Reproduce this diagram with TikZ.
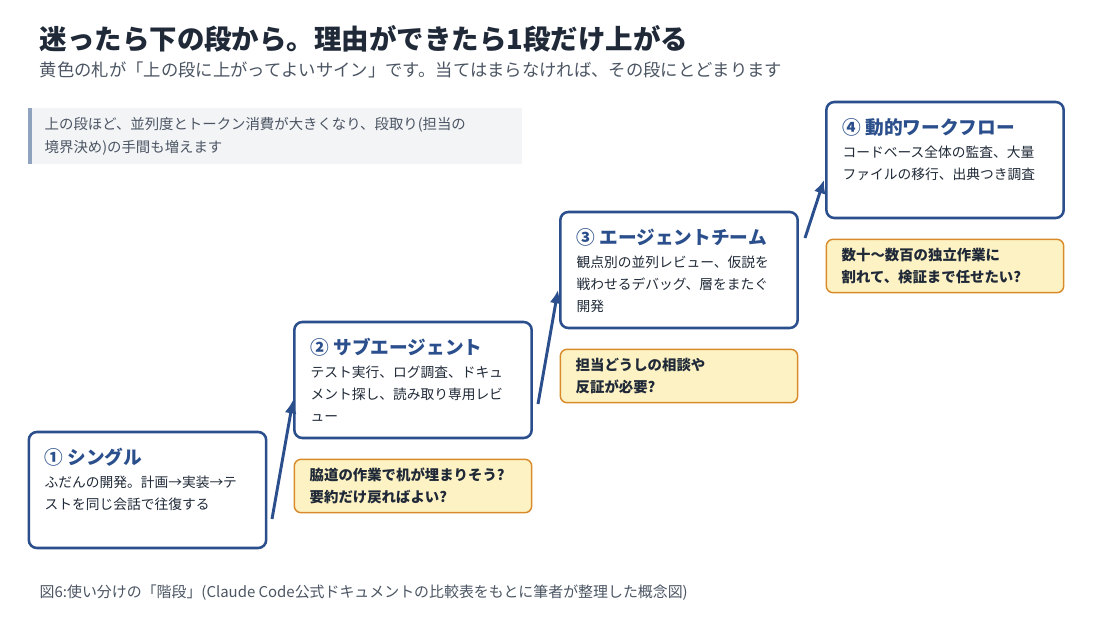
\documentclass[tikz,border=0pt]{standalone}
\usepackage{fontspec}
\setmainfont{Noto Sans CJK JP}
\usetikzlibrary{arrows.meta}
\definecolor{navy}{HTML}{2B4F8C}
\definecolor{ink}{HTML}{1F2937}
\definecolor{gr}{HTML}{4B5563}
\definecolor{lgr}{HTML}{F3F4F6}
\definecolor{bar}{HTML}{8FA3BF}
\definecolor{yel}{HTML}{FDF2C4}
\definecolor{org}{HTML}{D98B2B}
\begin{document}
\begin{tikzpicture}[x=0.75pt,y=-0.75pt,
 stair/.style={draw=navy,line width=1.9pt,rounded corners=6pt,fill=white,minimum width=178pt,minimum height=87pt},
 hint/.style={draw=org,line width=1.1pt,rounded corners=5pt,fill=yel,minimum width=178pt,minimum height=40pt},
 ttl/.style={anchor=west,text=navy,font=\fontsize{14}{16}\selectfont\bfseries},
 dsc/.style={anchor=north west,text=ink,align=left,font=\fontsize{10.3}{16.5}\selectfont},
 htx/.style={anchor=west,text=ink,align=left,font=\fontsize{10.8}{17}\selectfont\bfseries},
 arr/.style={draw=navy,line width=2.2pt,-{Latex[length=10pt,width=9pt]}}]
\useasboundingbox[fill=white] (0,0) rectangle (1100,618);
\node[anchor=west,text=ink,font=\fontsize{20.6}{22}\selectfont\bfseries] (title) at (35,39) {迷ったら下の段から。理由ができたら1段だけ上がる};
\node[anchor=west,text=gr,font=\fontsize{13}{14}\selectfont] (sub) at (35,70) {黄色の札が「上の段に上がってよいサイン」です。当てはまらなければ、その段にとどまります};
\fill[lgr] (28,108) rectangle (522,164);
\fill[bar] (28,108) rectangle (32,164);
\node[anchor=north west,text=gr,align=left,font=\fontsize{10.8}{17}\selectfont] (note) at (40,113) {上の段ほど、並列度とトークン消費が大きくなり、段取り(担当の\\境界決め)の手間も増えます};
\node[stair] (s1) at (147.5,490) {};
\node[stair] (s2) at (413,380) {};
\node[stair] (s3) at (679,270) {};
\node[stair] (s4) at (945,160) {};
\node[ttl] (t1) at (40,457) {① シングル};
\node[dsc] (d1) at (40,471) {ふだんの開発。計画→実装→テ\\ストを同じ会話で往復する};
\node[ttl] (t2) at (306,347) {② サブエージェント};
\node[dsc] (d2) at (306,361) {テスト実行、ログ調査、ドキュ\\メント探し、読み取り専用レビ\\ュー};
\node[ttl] (t3) at (572,237) {③ エージェントチーム};
\node[dsc] (d3) at (572,251) {観点別の並列レビュー、仮説を\\戦わせるデバッグ、層をまたぐ\\開発};
\node[ttl] (t4) at (838,127) {④ 動的ワークフロー};
\node[dsc] (d4) at (838,141) {コードベース全体の監査、大量\\ファイルの移行、出典つき調査};
\node[hint] (h1) at (413,486) {};
\node[hint] (h2) at (679,376) {};
\node[hint] (h3) at (945,266) {};
\node[htx] (x1) at (305,486) {脇道の作業で机が埋まりそう?\\要約だけ戻ればよい?};
\node[htx] (x2) at (571,376) {担当どうしの相談や\\反証が必要?};
\node[htx] (x3) at (837,266) {数十〜数百の独立作業に\\割れて、検証まで任せたい?};
\coordinate (a1) at (272,519); \coordinate (b1) at (293,400);
\coordinate (a2) at (538,404); \coordinate (b2) at (558,290);
\coordinate (a3) at (805,238); \coordinate (b3) at (824,180);
\draw[arr] (a1) -- (b1);
\draw[arr] (a2) -- (b2);
\draw[arr] (a3) -- (b3);
\node[anchor=west,text=gr,font=\fontsize{11.2}{12}\selectfont] (cap) at (35,593) {図6:使い分けの「階段」(Claude Code公式ドキュメントの比較表をもとに筆者が整理した概念図)};
\end{tikzpicture}
\end{document}
